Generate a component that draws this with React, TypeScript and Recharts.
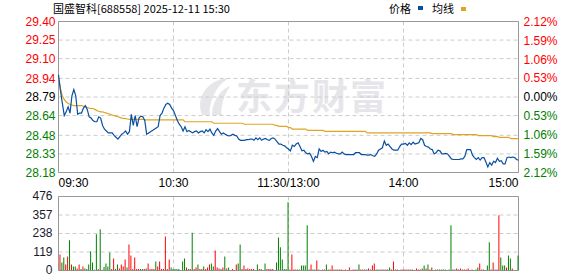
import React from 'react';
import {
  ComposedChart,
  Line,
  Bar,
  Cell,
  XAxis,
  YAxis,
  CartesianGrid,
  ReferenceArea,
} from 'recharts';

const stockName = '国盛智科[688558] 2025-12-11 15:30';
const legendPrice = '价格';
const legendAvg = '均线';
const watermark = '东方财富';

const preClose = 28.79;
const timeTicks = [0, 60, 120, 180, 240];
const timeLabels = ['09:30', '10:30', '11:30/13:00', '14:00', '15:00'];
const priceTicks = [28.18, 28.33, 28.48, 28.64, 28.79, 28.94, 29.1, 29.25, 29.4];
const pctTicks = [-2.12, -1.59, -1.06, -0.53, 0, 0.53, 1.06, 1.59, 2.12];
const volTicks = [0, 119, 238, 357, 476];

const prices = [
  28.97, 28.845, 28.74, 28.64, 28.67, 28.71, 28.66, 28.8, 28.85, 28.8,
  28.65, 28.66, 28.66, 28.7, 28.72, 28.69, 28.63, 28.62, 28.6, 28.59,
  28.59, 28.63, 28.62, 28.56, 28.53, 28.515, 28.5, 28.5, 28.5, 28.48,
  28.465, 28.45, 28.47, 28.49, 28.5, 28.515, 28.49, 28.51, 28.65, 28.56,
  28.64, 28.55, 28.62, 28.635, 28.63, 28.6, 28.49, 28.5, 28.51, 28.52,
  28.53, 28.54, 28.55, 28.64, 28.66, 28.7, 28.73, 28.74, 28.73, 28.7,
  28.68, 28.64, 28.6, 28.57, 28.55, 28.515, 28.55, 28.51, 28.52, 28.51,
  28.5, 28.51, 28.515, 28.5, 28.51, 28.515, 28.5, 28.525, 28.51, 28.53,
  28.5, 28.48, 28.515, 28.535, 28.51, 28.49, 28.5, 28.49, 28.48, 28.475,
  28.48, 28.49, 28.48, 28.475, 28.45, 28.44, 28.44, 28.44, 28.445, 28.445,
  28.45, 28.45, 28.44, 28.46, 28.445, 28.46, 28.44, 28.45, 28.455, 28.445,
  28.44, 28.455, 28.46, 28.45, 28.43, 28.41, 28.41, 28.4, 28.395, 28.38,
  28.37, 28.355, 28.4, 28.39, 28.41, 28.42, 28.39, 28.355, 28.36, 28.34,
  28.33, 28.335, 28.31, 28.27, 28.31, 28.3, 28.37, 28.35, 28.36, 28.345,
  28.35, 28.33, 28.345, 28.34, 28.345, 28.335, 28.33, 28.33, 28.345, 28.33,
  28.325, 28.325, 28.325, 28.325, 28.325, 28.34, 28.34, 28.34, 28.325, 28.325,
  28.325, 28.32, 28.32, 28.325, 28.315, 28.31, 28.33, 28.36, 28.37, 28.38,
  28.435, 28.4, 28.41, 28.39, 28.37, 28.36, 28.36, 28.36, 28.39, 28.41,
  28.41, 28.415, 28.4, 28.42, 28.405, 28.425, 28.41, 28.415, 28.42, 28.455,
  28.445, 28.4, 28.39, 28.385, 28.37, 28.365, 28.33, 28.34, 28.36, 28.355,
  28.33, 28.33, 28.335, 28.33, 28.31, 28.29, 28.285, 28.285, 28.285, 28.285,
  28.29, 28.29, 28.31, 28.365, 28.365, 28.365, 28.32, 28.3, 28.285, 28.3,
  28.28, 28.3, 28.3, 28.265, 28.225, 28.26, 28.24, 28.27, 28.26, 28.295,
  28.27, 28.275, 28.25, 28.25, 28.3, 28.305, 28.3, 28.305, 28.3, 28.285,
  28.28,
];

const avgPrices = [
  28.95, 28.86, 28.8, 28.77, 28.75, 28.74, 28.73, 28.725, 28.72, 28.72,
  28.72, 28.72, 28.72, 28.715, 28.71, 28.705, 28.7, 28.697, 28.697, 28.69,
  28.68, 28.675, 28.67, 28.67, 28.665, 28.66, 28.655, 28.65, 28.645, 28.64,
  28.635, 28.63, 28.625, 28.62, 28.618, 28.615, 28.612, 28.61, 28.61, 28.61,
  28.61, 28.61, 28.61, 28.61, 28.61, 28.605, 28.605, 28.605, 28.605, 28.605,
  28.605, 28.605, 28.605, 28.605, 28.605, 28.605, 28.605, 28.605, 28.605, 28.605,
  28.605, 28.605, 28.605, 28.605, 28.605, 28.605, 28.59, 28.59, 28.59, 28.59,
  28.59, 28.59, 28.59, 28.59, 28.59, 28.59, 28.59, 28.59, 28.59, 28.59,
  28.59, 28.578, 28.578, 28.578, 28.578, 28.578, 28.578, 28.578, 28.578, 28.578,
  28.578, 28.578, 28.578, 28.578, 28.578, 28.578, 28.578, 28.57, 28.57, 28.57,
  28.57, 28.57, 28.57, 28.57, 28.57, 28.57, 28.57, 28.57, 28.57, 28.57,
  28.57, 28.57, 28.57, 28.56, 28.56, 28.553, 28.553, 28.553, 28.553, 28.553,
  28.543, 28.543, 28.531, 28.531, 28.531, 28.531, 28.531, 28.531, 28.531, 28.531,
  28.52, 28.52, 28.52, 28.52, 28.52, 28.52, 28.52, 28.52, 28.52, 28.513,
  28.513, 28.513, 28.513, 28.513, 28.513, 28.513, 28.513, 28.513, 28.513, 28.513,
  28.513, 28.513, 28.513, 28.513, 28.513, 28.513, 28.513, 28.513, 28.513, 28.513,
  28.513, 28.5, 28.5, 28.5, 28.5, 28.5, 28.5, 28.5, 28.5, 28.5,
  28.5, 28.5, 28.5, 28.5, 28.5, 28.5, 28.5, 28.5, 28.5, 28.5,
  28.5, 28.5, 28.5, 28.5, 28.5, 28.5, 28.5, 28.5, 28.5, 28.5,
  28.5, 28.5, 28.5, 28.5, 28.5, 28.494, 28.494, 28.494, 28.494, 28.494,
  28.494, 28.494, 28.494, 28.494, 28.494, 28.494, 28.486, 28.486, 28.486, 28.486,
  28.486, 28.486, 28.486, 28.486, 28.486, 28.486, 28.486, 28.486, 28.486, 28.478,
  28.478, 28.478, 28.478, 28.478, 28.478, 28.478, 28.478, 28.47, 28.47, 28.47,
  28.464, 28.464, 28.464, 28.464, 28.464, 28.464, 28.453, 28.453, 28.453, 28.453,
  28.453,
];

const volumes = [
  0, 103, 52, 84, 39, 90, 194, 39, 26, 26,
  13, 39, 9, 26, 13, 9, 39, 124, 52, 5,
  233, 9, 265, 5, 22, 45, 26, 116, 9, 77,
  9, 39, 13, 39, 26, 71, 19, 168, 97, 9,
  84, 9, 9, 9, 9, 9, 13, 45, 9, 9,
  9, 58, 26, 58, 9, 9, 219, 9, 71, 19,
  9, 9, 9, 9, 4, 58, 77, 19, 9, 9,
  243, 9, 19, 39, 9, 9, 26, 9, 19, 39,
  45, 26, 129, 19, 13, 9, 19, 90, 13, 19,
  4, 9, 4, 39, 45, 168, 9, 32, 9, 13,
  9, 9, 9, 4, 39, 9, 9, 4, 45, 9,
  9, 9, 9, 4, 52, 213, 149, 71, 9, 9,
  439, 6, 103, 6, 6, 6, 6, 32, 32, 32,
  291, 6, 39, 6, 6, 65, 6, 4, 6, 6,
  39, 6, 6, 32, 6, 6, 6, 6, 6, 4,
  6, 4, 19, 4, 6, 6, 6, 39, 6, 6,
  6, 6, 13, 6, 32, 45, 6, 6, 6, 6,
  6, 6, 6, 19, 6, 58, 6, 6, 4, 6,
  6, 6, 6, 6, 6, 6, 4, 13, 6, 6,
  13, 32, 13, 39, 6, 19, 4, 6, 6, 6,
  6, 6, 6, 4, 6, 291, 6, 6, 13, 6,
  13, 6, 6, 6, 13, 4, 6, 4, 6, 19,
  45, 6, 6, 4, 32, 181, 6, 52, 6, 6,
  355, 84, 32, 32, 19, 97, 77, 13, 4, 4,
  97,
];

// r = up minute (red), g = down minute (green)
const volumeDirection = (
  'rrggrrgrgg rrgrgggggg grggggggrr ggrrrrgrrr rrrggrgrrr ' +
  'rgrrrrrrrg gggggggrgr grrgrrgrrr ggrrrgrgrg grrrggrrgr ' +
  'rrrggrgggr rrrggggggg grrrrrgggg ggrgrrggrr grrrrgrrrr ' +
  'rrrrrrrgrr rgrrrrgrgr grrgrrgrrr rrrrgrrrrr ggrggrggrg ' +
  'rgggggrgrr rrrrrrrggg rrrgggrrrr rgggrggrgg g'
).replace(/ /g, '');

const RED = '#ff0000';
const GREEN = '#008000';
const FONT = '"Liberation Sans", Arial, sans-serif';
const WATERMARK_GRAY = '#e6e6ea';

const priceColor = (v: number) =>
  Math.abs(v - preClose) < 1e-6 ? '#000000' : v > preClose ? RED : GREEN;
const pctColor = (v: number) =>
  Math.abs(v) < 1e-6 ? '#000000' : v > 0 ? RED : GREEN;

const TimeTick = (props: any) => {
  const { x, y, payload } = props;
  const idx = timeTicks.indexOf(payload.value);
  const anchor = idx === 0 ? 'start' : idx === timeTicks.length - 1 ? 'end' : 'middle';
  return (
    <text x={x} y={y} dy="0.71em" textAnchor={anchor} fill="#000" fontSize={12} fontFamily={FONT}>
      {timeLabels[idx]}
    </text>
  );
};

const PriceTick = (props: any) => {
  const { x, y, payload } = props;
  const v = Number(payload.value);
  return (
    <text x={x} y={y} dy="0.355em" textAnchor="end" fill={priceColor(v)} fontSize={12} fontFamily={FONT}>
      {v.toFixed(2)}
    </text>
  );
};

const PctTick = (props: any) => {
  const { x, y, payload } = props;
  const v = Number(payload.value);
  return (
    <text x={x} y={y} dy="0.355em" textAnchor="start" fill={pctColor(v)} fontSize={12} fontFamily={FONT}>
      {Math.abs(v).toFixed(2) + '%'}
    </text>
  );
};

const VolTick = (props: any) => {
  const { x, y, payload } = props;
  return (
    <text x={x} y={y} dy="0.33em" textAnchor="end" fill="#1a1a2e" fontSize={12} fontFamily={FONT}>
      {String(payload.value)}
    </text>
  );
};

export default function App() {
  const rows = prices.map((p, i) => ({
    t: i,
    price: p,
    avg: avgPrices[i],
    pct: (p / preClose - 1) * 100,
    vol: volumes[i],
    dir: volumeDirection[i],
  }));

  return (
    <div
      style={{
        position: 'absolute',
        left: 0,
        top: 0,
        width: 578,
        height: 276,
        background: '#ffffff',
        overflow: 'hidden',
        fontFamily: FONT,
      }}
    >
      {/* watermark logo */}
      <svg
        width={36}
        height={40}
        style={{ position: 'absolute', left: 196, top: 77 }}
        viewBox="0 0 36 40"
      >
        <path
          d="M6 38 C2 28 4 16 14 8 C20 3 28 1 33 1 C26 5 20 12 17 20 C14 27 13 33 14 38 Z"
          fill={WATERMARK_GRAY}
        />
        <path
          d="M16 38 C16 30 19 22 25 15 C28 12 31 10 34 9 C30 15 27 22 26 29 C25 33 25 36 26 38 Z"
          fill={WATERMARK_GRAY}
        />
      </svg>
      {/* watermark text */}
      <div
        style={{
          position: 'absolute',
          left: 236,
          top: 72,
          fontFamily: '"Noto Sans CJK SC", sans-serif',
          fontWeight: 700,
          fontSize: 36,
          lineHeight: '44px',
          color: WATERMARK_GRAY,
          letterSpacing: 2,
          whiteSpace: 'nowrap',
        }}
      >
        {watermark}
      </div>

      {/* header */}
      <div
        style={{
          position: 'absolute',
          left: 53,
          top: 1,
          fontFamily: '"Noto Sans CJK SC", sans-serif',
          fontSize: 11,
          lineHeight: '15px',
          color: '#000',
          whiteSpace: 'nowrap',
        }}
      >
        {stockName}
      </div>
      <div
        style={{
          position: 'absolute',
          left: 389,
          top: 1,
          fontFamily: '"Noto Sans CJK SC", sans-serif',
          fontSize: 11,
          lineHeight: '15px',
          color: '#000',
          whiteSpace: 'nowrap',
          display: 'flex',
          alignItems: 'center',
        }}
      >
        <span>{legendPrice}</span>
        <span style={{ display: 'inline-block', width: 5, height: 4, background: '#0a50a0', marginLeft: 7, marginTop: -2 }} />
        <span style={{ marginLeft: 9 }}>{legendAvg}</span>
        <span style={{ display: 'inline-block', width: 5, height: 4, background: '#dfa424', marginLeft: 7, marginTop: 0 }} />
      </div>

      {/* price chart */}
      <div style={{ position: 'absolute', left: 0, top: 0 }}>
        <ComposedChart
          width={578}
          height={192.5}
          data={rows}
          margin={{ top: 21.5, right: 0, bottom: 0, left: 0 }}
        >
          <CartesianGrid stroke="#cccccc" strokeDasharray="4 3" />
          <XAxis
            dataKey="t"
            type="number"
            domain={[0, 240]}
            ticks={timeTicks}
            interval={0}
            axisLine={false}
            tickLine={false}
            tickSize={6}
            tickMargin={0}
            height={20}
            tick={<TimeTick />}
          />
          <YAxis
            yAxisId={0}
            type="number"
            domain={[28.18, 29.4]}
            ticks={priceTicks}
            interval={0}
            allowDataOverflow
            axisLine={false}
            tickLine={false}
            tickSize={3}
            tickMargin={0}
            width={58.5}
            tick={<PriceTick />}
          />
          <YAxis
            yAxisId="pct"
            orientation="right"
            type="number"
            domain={[-2.12, 2.12]}
            ticks={pctTicks}
            interval={0}
            allowDataOverflow
            axisLine={false}
            tickLine={false}
            tickSize={5}
            tickMargin={0}
            width={59.5}
            tick={<PctTick />}
          />
          <Line
            yAxisId="pct"
            dataKey="pct"
            stroke="none"
            dot={false}
            activeDot={false}
            isAnimationActive={false}
          />
          <Line
            yAxisId={0}
            type="linear"
            dataKey="avg"
            stroke="#dfa424"
            strokeWidth={1.2}
            dot={false}
            activeDot={false}
            isAnimationActive={false}
          />
          <Line
            yAxisId={0}
            type="linear"
            dataKey="price"
            stroke="#0a50a0"
            strokeWidth={1.2}
            dot={false}
            activeDot={false}
            isAnimationActive={false}
          />
          <ReferenceArea
            yAxisId={0}
            x1={0}
            x2={240}
            y1={28.18}
            y2={29.4}
            fill="none"
            fillOpacity={0}
            stroke="#999999"
            strokeWidth={1}
            ifOverflow="visible"
          />
        </ComposedChart>
      </div>

      {/* volume chart */}
      <div style={{ position: 'absolute', left: 0, top: 180 }}>
        <ComposedChart
          width={578}
          height={96}
          data={rows}
          margin={{ top: 16.5, right: 59.5, bottom: 5.5, left: 0 }}
          style={{ overflow: 'visible' }}
        >
          <CartesianGrid stroke="#cccccc" strokeDasharray="4 3" />
          <XAxis
            dataKey="t"
            type="number"
            domain={[0, 240]}
            ticks={timeTicks}
            interval={0}
            hide
          />
          <YAxis
            type="number"
            domain={[0, 476]}
            ticks={volTicks}
            interval={0}
            allowDataOverflow
            axisLine={false}
            tickLine={false}
            tickSize={6}
            tickMargin={0}
            width={58.5}
            tick={<VolTick />}
          />
          <Bar dataKey="vol" barSize={1} isAnimationActive={false}>
            {rows.map((r, i) => (
              <Cell key={i} fill={r.dir === 'r' ? RED : GREEN} />
            ))}
          </Bar>
          <ReferenceArea
            x1={0}
            x2={240}
            y1={0}
            y2={476}
            fill="none"
            fillOpacity={0}
            stroke="#999999"
            strokeWidth={1}
            ifOverflow="visible"
          />
        </ComposedChart>
      </div>
    </div>
  );
}
